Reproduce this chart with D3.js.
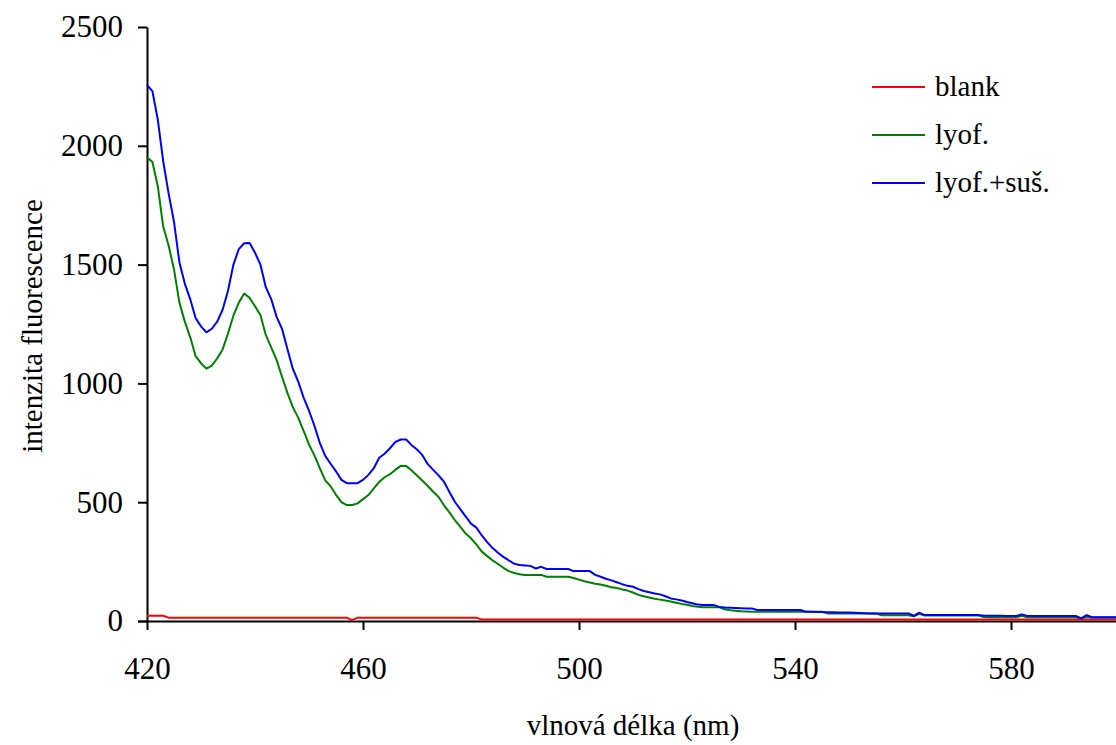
<!DOCTYPE html>
<html><head><meta charset="utf-8">
<script src="https://cdn.jsdelivr.net/npm/d3@7"></script>
<style>
html,body{margin:0;padding:0;background:#fff;}
svg{display:block;}
svg text{font-family:"Liberation Serif","Times New Roman","DejaVu Serif",serif !important;}
</style></head>
<body>
<svg id="chart" width="1116" height="745"></svg>
<script>
const wavelengthStart = 420;
const xTicks = [420, 460, 500, 540, 580];
const yTicks = [0, 500, 1000, 1500, 2000, 2500];
const seriesNames = ["blank", "lyof.", "lyof.+suš."];
const seriesColors = ["#ff0000", "#008000", "#0000ff"];

// values at 1 nm steps, 420..600 nm
const blank = [
22,22,22,22,14,14,14,14,14,14, // 420-429
14,14,14,14,14,14,14,14,14,14, // 430-439
14,14,14,14,14,14,14,14,14,14, // 440-449
14,14,14,14,14,14,14,14,4,14,  // 450-459
14,14,14,14,14,14,14,14,14,14, // 460-469
14,14,14,14,14,14,14,14,14,14, // 470-479
14,14,6,6,6,6,6,6,6,6,         // 480-489
6,6,6,6,6,6,6,6,6,6,           // 490-499
6,6,6,6,6,6,6,6,6,6,           // 500-509
6,6,6,6,6,6,6,6,6,6,           // 510-519
6,6,6,6,6,6,6,6,6,6,           // 520-529
6,6,6,6,6,6,6,6,6,6,           // 530-539
6,6,6,6,6,6,6,6,6,6,           // 540-549
6,6,6,6,6,6,6,6,6,6,           // 550-559
6,6,6,6,6,6,6,6,6,6,           // 560-569
6,6,6,6,6,6,6,6,6,6,           // 570-579
6,6,6,6,6,6,6,6,6,6,           // 580-589
6,6,6,6,6,6,6,6,6,6,           // 590-599
6                              // 600
];
const lyof = [
1952,1932,1830,1660,1580,1480,1340,1260,1195,1115, // 420-429
1085,1062,1075,1105,1143,1210,1285,1340,1378,1360, // 430-439
1325,1288,1204,1152,1099,1028,960,900,856,800,     // 440-449
743,697,643,592,567,531,500,488,488,495,           // 450-459
513,530,558,585,605,618,637,653,652,634,           // 460-469
612,590,568,544,522,487,457,425,397,368,           // 470-479
348,322,292,273,255,240,224,210,202,197,           // 480-489
194,194,194,194,186,186,186,186,186,181,           // 490-499
174,167,162,157,154,148,142,139,133,128,           // 500-509
120,110,104,99,94,90,86,82,77,72,                  // 510-519
68,63,60,58,58,58,58,49,45,43,                     // 520-529
41,40,39,39,39,39,39,39,39,39,                     // 530-539
39,39,39,39,39,39,32,32,32,32,                     // 540-549
32,32,32,32,32,32,24,24,24,24,                     // 550-559
24,24,20,30,23,23,23,23,23,23,                     // 560-569
23,23,23,23,23,17,16,16,16,16,                     // 570-579
16,16,22,16,16,16,16,16,16,16,                     // 580-589
16,16,16,11,18,15,15,15,15,15,                     // 590-599
15                                                 // 600
];
const lyofSus = [
2256,2230,2110,1935,1800,1680,1510,1420,1355,1275, // 420-429
1240,1215,1230,1260,1310,1390,1500,1565,1590,1591, // 430-439
1550,1500,1405,1355,1280,1230,1145,1062,1008,940,  // 440-449
885,822,750,695,662,630,594,580,580,580,           // 450-459
594,615,643,687,704,727,754,764,764,740,           // 460-469
722,698,660,636,613,586,543,502,471,440,           // 470-479
410,393,360,332,307,287,270,255,241,236,           // 480-489
234,232,221,228,219,219,219,219,219,210,           // 490-499
210,210,210,194,186,178,171,163,155,148,           // 500-509
144,134,126,121,116,112,104,95,91,86,              // 510-519
80,75,69,67,67,67,59,57,56,55,                     // 520-529
54,53,53,46,46,46,46,46,46,46,                     // 530-539
46,46,39,39,38,38,37,37,36,36,                     // 540-549
36,35,34,33,32,32,32,32,32,32,                     // 550-559
32,32,22,35,25,25,25,25,25,25,                     // 560-569
25,25,25,25,25,22,22,22,22,21,                     // 570-579
21,21,28,21,21,21,21,21,21,21,                     // 580-589
21,21,21,11,25,16,16,16,16,16,                     // 590-599
16                                                 // 600
];

const svg = d3.select("#chart");
const x = d3.scaleLinear().domain([420, 600]).range([147, 1119]);
const y = d3.scaleLinear().domain([0, 2500]).range([621, 27]);

const FS = 29;
const TICK_FS = 31;
const FONT = '"Liberation Serif","Times New Roman","DejaVu Serif",serif';

// Y axis
const yAxis = svg.append("g").attr("transform", "translate(147,0)")
  .call(d3.axisLeft(y).tickValues(yTicks).tickFormat(d3.format("d"))
    .tickSize(9).tickSizeOuter(0).tickPadding(15));
// X axis
const xAxis = svg.append("g").attr("transform", "translate(0,621)")
  .call(d3.axisBottom(x).tickValues(xTicks).tickFormat(d3.format("d"))
    .tickSize(9).tickSizeOuter(0).tickPadding(27));

[yAxis, xAxis].forEach(g => {
  g.attr("font-family", FONT).attr("font-size", TICK_FS);
  g.select(".domain").attr("stroke", "#000").attr("stroke-width", 2);
  g.selectAll(".tick line").attr("stroke", "#000").attr("stroke-width", 2);
  g.selectAll(".tick text").attr("fill", "#000");
});
xAxis.select(".domain").attr("d", "M138,0.5H1116");

// Lines
const allSeries = [blank, lyof, lyofSus];
const line = d3.line()
  .x((d, i) => x(wavelengthStart + i))
  .y(d => y(d));

svg.append("defs").append("clipPath").attr("id", "clip")
  .append("rect").attr("x", 146).attr("y", 0).attr("width", 1000).attr("height", 640);

const plot = svg.append("g").attr("clip-path", "url(#clip)");
allSeries.forEach((s, k) => {
  plot.append("path").datum(s)
    .attr("fill", "none")
    .attr("stroke", seriesColors[k])
    .attr("stroke-width", 2)
    .attr("stroke-linejoin", "round")
    .attr("d", line);
});

// Axis titles
svg.append("text").attr("x", 633).attr("y", 735).attr("text-anchor", "middle")
  .attr("font-family", FONT).attr("font-size", FS).text("vlnová délka (nm)");
svg.append("text").attr("transform", "translate(42,326) rotate(-90)")
  .attr("text-anchor", "middle").attr("font-family", FONT).attr("font-size", FS)
  .text("intenzita fluorescence");

// Legend
const leg = svg.append("g");
seriesNames.forEach((name, k) => {
  const ly = 87 + k * 48;
  leg.append("line").attr("x1", 872).attr("x2", 925).attr("y1", ly).attr("y2", ly)
    .attr("stroke", seriesColors[k]).attr("stroke-width", 2);
  leg.append("text").attr("x", 935).attr("y", ly + 9)
    .attr("font-family", FONT).attr("font-size", FS).text(name);
});
</script>
</body></html>
